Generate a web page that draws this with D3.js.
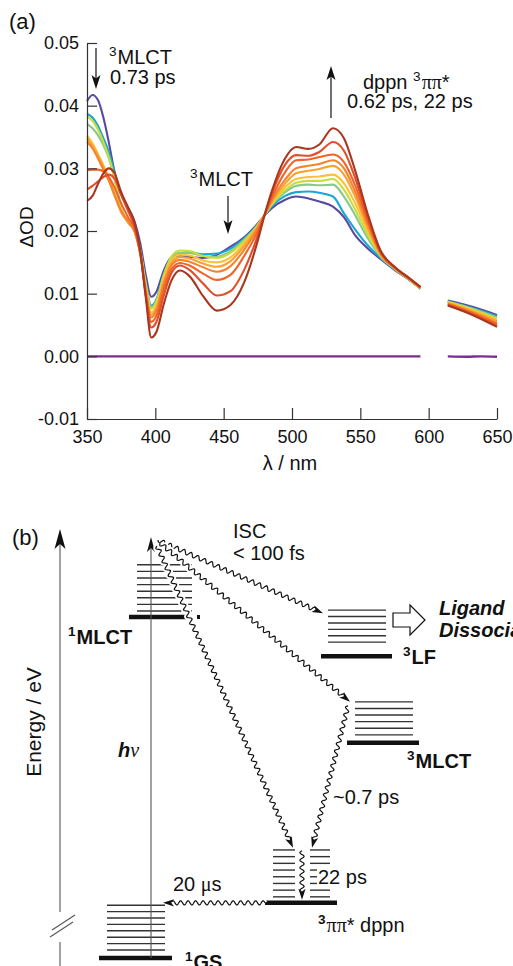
<!DOCTYPE html>
<html>
<head>
<meta charset="utf-8">
<script src="https://cdnjs.cloudflare.com/ajax/libs/d3/7.8.5/d3.min.js"></script>
<style>
body { margin: 0; background: #fff; }
svg text { font-family: "Liberation Sans", Arial, Helvetica, sans-serif; fill: #111; }
</style>
</head>
<body>
<svg id="fig" width="513" height="966"></svg>
<script>

// ---------- panel (a) data: transient absorption spectra ----------
var wavelengthsA = [350, 354, 358, 362, 366, 370, 375, 380, 385, 389, 393, 397, 401, 406, 412, 418, 425, 435,
	445, 455, 465, 475, 480, 485, 495, 503, 512, 520, 530, 538, 546, 555, 565, 575, 585, 594];
var wavelengthsB = [614, 632, 650];

// one row per delay, earliest (purple) to latest (dark red)
var spectraA = [
	[.0407,.0417,.0409,.0381,.0341,.0296,.0258,.0237,.0214,.0180,.0130,.0095,.0104,.0136,.0158,.0161,.0159,.0157,.0162,.0175,.0190,.0212,.0225,.0236,.0250,.0255,.0252,.0247,.0239,.0222,.0194,.0173,.0155,.0138,.0123,.0108],
	[.0387,.0381,.0368,.0348,.0326,.0292,.0236,.0214,.0200,.0170,.0118,.0081,.0092,.0130,.0158,.0165,.0166,.0163,.0164,.0172,.0188,.0210,.0225,.0239,.0256,.0262,.0263,.0261,.0255,.0228,.0203,.0178,.0157,.0139,.0124,.0108],
	[.0371,.0364,.0353,.0337,.0316,.0284,.0234,.0214,.0200,.0168,.0116,.0078,.0090,.0128,.0157,.0165,.0165,.0160,.0159,.0168,.0186,.0210,.0226,.0241,.0262,.0272,.0274,.0273,.0274,.0255,.0226,.0190,.0159,.0140,.0124,.0108],
	[.0383,.0376,.0362,.0342,.0318,.0286,.0236,.0215,.0200,.0168,.0114,.0076,.0088,.0128,.0160,.0169,.0168,.0160,.0157,.0165,.0184,.0209,.0226,.0242,.0265,.0277,.0280,.0280,.0283,.0266,.0235,.0196,.0160,.0140,.0124,.0108],
	[.0352,.0340,.0323,.0305,.0286,.0262,.0232,.0215,.0198,.0165,.0110,.0070,.0082,.0122,.0154,.0162,.0161,.0153,.0150,.0158,.0180,.0208,.0226,.0244,.0270,.0283,.0286,.0287,.0290,.0276,.0245,.0202,.0161,.0141,.0125,.0109],
	[.0348,.0336,.0320,.0302,.0282,.0258,.0230,.0214,.0198,.0164,.0108,.0066,.0078,.0118,.0150,.0158,.0156,.0148,.0143,.0152,.0176,.0207,.0226,.0246,.0276,.0292,.0296,.0299,.0304,.0290,.0256,.0208,.0162,.0141,.0125,.0109],
	[.0342,.0332,.0316,.0298,.0280,.0258,.0232,.0216,.0198,.0162,.0104,.0062,.0074,.0114,.0146,.0154,.0151,.0142,.0135,.0144,.0170,.0205,.0226,.0248,.0282,.0300,.0304,.0307,.0313,.0300,.0264,.0213,.0163,.0141,.0125,.0109],
	[.0297,.0298,.0298,.0295,.0286,.0270,.0244,.0222,.0202,.0164,.0100,.0055,.0066,.0106,.0140,.0149,.0145,.0132,.0122,.0130,.0160,.0200,.0226,.0252,.0294,.0313,.0314,.0318,.0322,.0310,.0274,.0218,.0164,.0142,.0125,.0110],
	[.0266,.0272,.0279,.0286,.0290,.0284,.0258,.0232,.0206,.0166,.0098,.0046,.0056,.0096,.0134,.0145,.0138,.0116,.0097,.0104,.0138,.0193,.0226,.0258,.0306,.0321,.0320,.0326,.0342,.0328,.0286,.0224,.0166,.0142,.0126,.0110],
	[.0248,.0256,.0275,.0292,.0300,.0293,.0262,.0238,.0212,.0168,.0094,.0030,.0040,.0082,.0122,.0137,.0128,.0096,.0073,.0082,.0118,.0185,.0226,.0262,.0316,.0334,.0331,.0338,.0364,.0348,.0298,.0230,.0168,.0143,.0126,.0111]
];
var spectraB = [
	[.0089,.0079,.0066], [.0088,.0077,.0064], [.0087,.0076,.0062], [.0087,.0075,.0060], [.0086,.0073,.0058],
	[.0085,.0072,.0056], [.0084,.0070,.0053], [.0083,.0069,.0051], [.0082,.0067,.0049], [.0081,.0066,.0047]
];
// signal before time zero
var baseWavelengths = [[350, 594], [614, 628, 638, 650]];
var baseValues = [[0, 0], [0, -0.00006, 0, -0.00006]];

var xTicks = [350, 400, 450, 500, 550, 600, 650];
var yTicks = [-0.01, 0, 0.01, 0.02, 0.03, 0.04, 0.05];

var curveColors = ["#5a4a9f", "#1ba6d3", "#86c98a", "#c9dc3c", "#fbc237", "#f9a230", "#f6822c", "#f0642a", "#e24e27", "#a9361f"];

// ---------- panel (b) data: energy level scheme ----------
var stateNames = ["GS", "dppn", "3MLCT", "3LF", "1MLCT"];
var stateEnergy = [0, 1.31, 5.11, 7.17, 8.10];   // arbitrary units, top of scheme = 10
var pumpEnergy = 10;

var sans = '"Liberation Sans", Arial, Helvetica, sans-serif';
var serif = '"Liberation Serif", "Times New Roman", serif';

var svg = d3.select('#fig');

// small helper for text with superscripts / mixed fonts
function label(x, y, parts, opt) {
	opt = opt || {};
	var size = opt.size || 20;
	var t = svg.append('text')
		.attr('x', x).attr('y', y)
		.attr('font-size', size)
		.attr('font-weight', opt.weight || 'normal')
		.attr('font-style', opt.style || 'normal')
		.attr('text-anchor', opt.anchor || 'start');
	var shift = 0, prevSup = false;
	parts.forEach(function(p){
		var target = p.sup ? -0.4 * size : 0;
		var ts = t.append('tspan').text(p.t).attr('dy', target - shift);
		if (prevSup && !p.sup) ts.attr('dx', 1);
		shift = target;
		prevSup = !!p.sup;
		if (p.sup) ts.attr('font-size', size * 0.68);
		if (p.serif) ts.attr('font-family', serif);
		if (p.weight) ts.attr('font-weight', p.weight);
		if (p.style) ts.attr('font-style', p.style);
	});
	return t;
}

function arrowHead(x2, y2, ux, uy, len, half) {
	var nx = -uy, ny = ux;
	var bx = x2 - ux * len, by = y2 - uy * len;
	var mx = x2 - ux * len * 0.75, my = y2 - uy * len * 0.75;
	svg.append('path')
		.attr('d', 'M' + x2 + ',' + y2 + 'L' + (bx + nx * half) + ',' + (by + ny * half) +
			'L' + mx + ',' + my + 'L' + (bx - nx * half) + ',' + (by - ny * half) + 'Z')
		.attr('fill', '#111');
}

function straightArrow(x1, y1, x2, y2, color, width) {
	var L = Math.hypot(x2 - x1, y2 - y1), ux = (x2 - x1) / L, uy = (y2 - y1) / L;
	svg.append('line')
		.attr('x1', x1).attr('y1', y1)
		.attr('x2', x2 - ux * 8).attr('y2', y2 - uy * 8)
		.attr('stroke', color || '#111').attr('stroke-width', width || 1.2);
	arrowHead(x2, y2, ux, uy, 14, 4.5);
}

// ================= panel (a) =================
var x = d3.scaleLinear().domain([350, 650]).range([87, 497]);
var y = d3.scaleLinear().domain([-0.01, 0.05]).range([419, 43]);

var line = d3.line()
	.x(function(d){ return x(d[0]); })
	.y(function(d){ return y(d[1]); })
	.curve(d3.curveMonotoneX);

// baseline before time zero
baseWavelengths.forEach(function(wl, s){
	svg.append('path')
		.attr('d', line(wl.map(function(w, i){ return [w, baseValues[s][i]]; })))
		.attr('fill', 'none')
		.attr('stroke', '#7a2e8e')
		.attr('stroke-width', 2.4);
});

spectraA.forEach(function(vals, k){
	[[wavelengthsA, vals], [wavelengthsB, spectraB[k]]].forEach(function(seg){
		svg.append('path')
			.attr('d', line(seg[0].map(function(w, i){ return [w, seg[1][i]]; })))
			.attr('fill', 'none')
			.attr('stroke', curveColors[k])
			.attr('stroke-width', 2.1)
			.attr('stroke-linejoin', 'round');
	});
});

var gy = svg.append('g')
	.attr('transform', 'translate(' + x(350) + ',0)')
	.call(d3.axisLeft(y).tickValues(yTicks)
		.tickFormat(function(d){ return d.toFixed(2); })
		.tickSizeInner(-10).tickSizeOuter(0).tickPadding(8));
var gx = svg.append('g')
	.attr('transform', 'translate(0,' + y(-0.01) + ')')
	.call(d3.axisBottom(x).tickValues(xTicks)
		.tickSizeInner(-11).tickSizeOuter(0).tickPadding(11));
[gx, gy].forEach(function(g){
	g.attr('font-family', sans).attr('font-size', 18);
	g.selectAll('path, line').attr('stroke', '#333').attr('stroke-width', 1.2);
	g.selectAll('text').attr('fill', '#111');
});

svg.append('text').attr('x', 290).attr('y', 470)
	.attr('text-anchor', 'middle').attr('font-size', 20).text('λ / nm');
svg.append('text')
	.attr('transform', 'translate(33,227) rotate(-90)')
	.attr('text-anchor', 'middle').attr('font-size', 19).text('ΔOD');

svg.append('text').attr('x', 9).attr('y', 29)
	.attr('font-family', serif).attr('font-size', 22).text('(a)');

// annotations
straightArrow(96, 48, 96, 89);
label(109, 64, [{t: '3', sup: true}, {t: 'MLCT'}], {size: 20});
label(110, 84, [{t: '0.73 ps'}], {size: 20});

straightArrow(228, 196, 228, 234);
label(190, 186, [{t: '3', sup: true}, {t: 'MLCT'}], {size: 20});

straightArrow(331, 118, 331, 66);
label(363, 89, [{t: 'dppn '}, {t: '3', sup: true}, {t: 'ππ', serif: true}, {t: '*'}], {size: 20});
label(347, 108, [{t: '0.62 ps, 22 ps'}], {size: 20});

// ================= panel (b) =================
var yE = d3.scaleLinear().domain([0, pumpEnergy]).range([958, 537]);

// per state: bar span, level spans, gap above bar, level spacing, count
var layout = {
	GS:      {bar: [99, 172],  lv: [[107, 165]], gap: 8,  sp: 6.4, n: 8},
	dppn:    {bar: [265, 337], lv: [[273, 295], [310, 330]], gap: 6, sp: 6.7, n: 8},
	'3MLCT': {bar: [347, 419], lv: [[355, 413]], gap: 8,  sp: 6.6, n: 6},
	'3LF':   {bar: [321, 392], lv: [[328, 386]], gap: 14, sp: 6.4, n: 6},
	'1MLCT': {bar: [129, 187], lv: [[137, 192]], gap: 6,  sp: 6.6, n: 8}
};

stateNames.forEach(function(name, i){
	var L = layout[name], yb = yE(stateEnergy[i]);
	svg.append('line')
		.attr('x1', L.bar[0]).attr('x2', L.bar[1])
		.attr('y1', yb).attr('y2', yb)
		.attr('stroke', '#111').attr('stroke-width', 4.5);
	d3.range(L.n).forEach(function(j){
		var yl = yb - L.gap - j * L.sp;
		L.lv.forEach(function(span){
			svg.append('line')
				.attr('x1', span[0]).attr('x2', span[1])
				.attr('y1', yl).attr('y2', yl)
				.attr('stroke', '#333').attr('stroke-width', 1.4);
		});
	});
});
svg.append('rect').attr('x', 197).attr('y', yE(stateEnergy[4]) - 2).attr('width', 3).attr('height', 4).attr('fill', '#111');

// energy axis with break
svg.append('line').attr('x1', 60).attr('x2', 60).attr('y1', 912).attr('y2', 540)
	.attr('stroke', '#555').attr('stroke-width', 1.1);
arrowHead(60, 529, 0, -1, 20, 5.5);
svg.append('line').attr('x1', 60).attr('x2', 60).attr('y1', 942).attr('y2', 966)
	.attr('stroke', '#555').attr('stroke-width', 1.1);
[[52, 930, 75, 915], [50, 937, 73, 922]].forEach(function(b){
	svg.append('line').attr('x1', b[0]).attr('y1', b[1]).attr('x2', b[2]).attr('y2', b[3])
		.attr('stroke', '#555').attr('stroke-width', 1.1);
});
svg.append('text')
	.attr('transform', 'translate(41,722) rotate(-90)')
	.attr('text-anchor', 'middle').attr('font-size', 21).text('Energy / eV');

// pump arrow h nu
svg.append('line').attr('x1', 151).attr('x2', 151).attr('y1', yE(0)).attr('y2', yE(pumpEnergy) + 12)
	.attr('stroke', '#555').attr('stroke-width', 1.1);
arrowHead(151, yE(pumpEnergy), 0, -1, 15, 4);

// wavy (non-radiative) arrows
function wavy(x1, y1, x2, y2) {
	var dx = x2 - x1, dy = y2 - y1, L = Math.hypot(dx, dy);
	var ux = dx / L, uy = dy / L, nx = -uy, ny = ux;
	var pts = [];
	for (var s = 0; s <= L - 9; s += 0.5) {
		var o = 2.1 * Math.sin(2 * Math.PI * s / 7.5);
		pts.push([x1 + ux * s + nx * o, y1 + uy * s + ny * o]);
	}
	var d = d3.line()(pts);
	svg.append('path').attr('d', d).attr('fill', 'none')
		.attr('stroke', '#fff').attr('stroke-width', 5);
	svg.append('path').attr('d', d).attr('fill', 'none')
		.attr('stroke', '#111').attr('stroke-width', 1.2);
	arrowHead(x2, y2, ux, uy, 11, 3.6);
}
var yTop = yE(pumpEnergy);
wavy(158, yTop + 3, 323, yE(stateEnergy[3]) - 43);
wavy(160, yTop + 6, 350, yE(stateEnergy[2]) - 41);
wavy(157, yTop + 9, 293, yE(stateEnergy[1]) - 55);
wavy(348, yE(stateEnergy[2]) - 37, 312, yE(stateEnergy[1]) - 55);
wavy(302, yE(stateEnergy[1]) - 52, 302, yE(stateEnergy[1]) - 3);
wavy(265, yE(stateEnergy[1]), 163, yE(stateEnergy[1]));

// hollow arrow towards ligand dissociation
svg.append('path')
	.attr('d', 'M393,613 L410,613 L410,605 L425,620 L410,635 L410,627 L393,627 Z')
	.attr('fill', '#fff').attr('stroke', '#111').attr('stroke-width', 1.2);

// white patch where "22 ps" sits over the levels
svg.append('rect').attr('x', 317).attr('y', 866).attr('width', 52).attr('height', 20).attr('fill', '#fff');

svg.append('text').attr('x', 12).attr('y', 545)
	.attr('font-family', serif).attr('font-size', 22).text('(b)');
label(233, 538, [{t: 'ISC'}]);
label(233, 560, [{t: '< 100 fs'}]);
label(439, 615, [{t: 'Ligand'}], {weight: 'bold', style: 'italic'});
label(439, 637, [{t: 'Dissociation'}], {weight: 'bold', style: 'italic'});
label(403, 664, [{t: '3', sup: true}, {t: 'LF'}], {weight: 'bold'});
label(68, 644, [{t: '1', sup: true}, {t: 'MLCT'}], {weight: 'bold'});
label(407, 768, [{t: '3', sup: true}, {t: 'MLCT'}], {weight: 'bold'});
label(333, 804, [{t: '~0.7 ps'}]);
label(318, 884, [{t: '22 ps'}]);
label(318, 932, [{t: '3', sup: true, weight: 'bold'}, {t: 'ππ', serif: true}, {t: '* dppn'}]);
label(173, 891, [{t: '20 '}, {t: 'μ', serif: true}, {t: 's'}]);
label(118, 757, [{t: 'h', weight: 'bold', style: 'italic'}, {t: 'ν', serif: true, style: 'italic'}]);
label(185, 969, [{t: '1', sup: true}, {t: 'GS'}], {weight: 'bold'});

</script>
</body>
</html>
